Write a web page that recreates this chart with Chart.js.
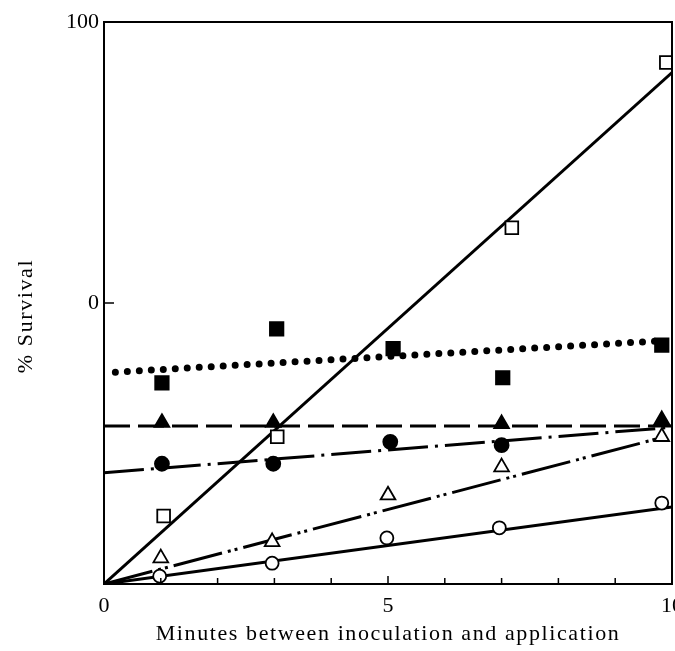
<!DOCTYPE html>
<html>
<head>
    <title>% Survival vs minutes between inoculation and application</title>
    <script src="https://cdn.jsdelivr.net/npm/chart.js"></script>
    <style>
        html, body { margin: 0; padding: 0; overflow: hidden; background: #fff; }
    </style>
</head>
<body>
    <canvas id="survivalChart" width="700" height="651"></canvas>

    <script>
        // points, [minutes, % survival]
        const openSquares = [[1.05, 12.1], [3.05, 26.2], [7.18, 63.4], [9.9, 92.8]];
        const filledSquares = [[1.02, 35.8], [3.04, 45.4], [5.09, 41.9], [7.02, 36.7], [9.82, 42.5]];
        const filledTriangles = [[1.02, 28.7], [2.98, 28.7], [7.0, 28.5], [9.82, 29.2]];
        const filledCircles = [[1.02, 21.4], [2.98, 21.4], [5.04, 25.3], [7.0, 24.7]];
        const openTriangles = [[1.0, 4.6], [2.96, 7.5], [5.0, 15.8], [7.0, 20.8], [9.82, 26.2]];
        const openCircles = [[0.98, 1.4], [2.96, 3.7], [4.98, 8.2], [6.96, 10.0], [9.82, 14.4]];

        // fitted lines, start and end points
        const openSquaresFit = [[0, 0], [10, 91]];
        const filledSquaresFit = [[0.2, 37.7], [9.7, 43.2]];
        const filledTrianglesFit = [[0, 28.1], [10, 28.1]];
        const filledCirclesFit = [[0, 19.8], [9.9, 27.8]];
        const openTrianglesFit = [[0, 0], [9.8, 26.0]];
        const openCirclesFit = [[0, 0], [10, 13.7]];

        const xTickValues = [0, 5, 10];
        const xMinorTicks = [1, 2, 3, 4, 5, 6, 7, 8, 9];
        const yTickValues = [50, 100];
        const yTickLabels = ['0', '100'];
        const yMinorTicks = [50];
        const xTitle = 'Minutes between inoculation and application';
        const yTitle = '% Survival';

        const toXY = arr => arr.map(([x, y]) => ({ x: x, y: y }));
        const tickFont = { family: '"Liberation Serif", serif', size: 22 };

        function markers(data, style, radius, filled) {
            return {
                data: toXY(data),
                showLine: false,
                pointStyle: style,
                pointRadius: radius,
                pointBorderWidth: 1.8,
                pointBorderColor: '#000',
                pointBackgroundColor: filled ? '#000' : '#fff',
                order: 0
            };
        }

        function fitLine(data, dash, width, cap) {
            return {
                data: toXY(data),
                showLine: true,
                pointRadius: 0,
                borderColor: '#000',
                borderWidth: width,
                borderDash: dash,
                borderCapStyle: cap || 'butt',
                fill: false,
                tension: 0,
                order: 1
            };
        }

        const frameAndTicks = {
            id: 'frameAndTicks',
            afterDraw(chart) {
                const ctx = chart.ctx;
                const a = chart.chartArea;
                const x = chart.scales.x;
                const y = chart.scales.y;
                ctx.save();
                ctx.strokeStyle = '#000';
                ctx.lineWidth = 2;
                ctx.strokeRect(a.left, a.top, a.right - a.left, a.bottom - a.top);

                ctx.lineWidth = 1.5;
                ctx.beginPath();
                xMinorTicks.forEach(v => {
                    const px = x.getPixelForValue(v);
                    ctx.moveTo(px, a.bottom);
                    ctx.lineTo(px, a.bottom - (v === 5 ? 8 : 6));
                });
                yMinorTicks.forEach(v => {
                    const py = y.getPixelForValue(v);
                    ctx.moveTo(a.left, py);
                    ctx.lineTo(a.left + 10, py);
                });
                ctx.stroke();

                ctx.fillStyle = '#000';
                ctx.font = '22px "Liberation Serif", serif';
                ctx.letterSpacing = '1.6px';
                ctx.textAlign = 'center';
                ctx.textBaseline = 'alphabetic';
                ctx.fillText(xTitle, (a.left + a.right) / 2, 640);
                ctx.translate(32, 316);
                ctx.rotate(-Math.PI / 2);
                ctx.fillText(yTitle, 0, 0);
                ctx.restore();
            }
        };

        const ctx = document.getElementById('survivalChart').getContext('2d');
        new Chart(ctx, {
            type: 'scatter',
            data: {
                datasets: [
                    markers(openSquares, 'rect', 9, false),
                    markers(filledSquares, 'rect', 9.5, true),
                    markers(filledTriangles, 'triangle', 8.5, true),
                    markers(filledCircles, 'circle', 7, true),
                    markers(openTriangles, 'triangle', 8.5, false),
                    markers(openCircles, 'circle', 6.5, false),
                    fitLine(openSquaresFit, [], 3),
                    fitLine(filledSquaresFit, [0, 12], 7, 'round'),
                    fitLine(filledTrianglesFit, [26, 8], 3),
                    fitLine(filledCirclesFit, [40, 7, 3, 7], 3),
                    fitLine(openTrianglesFit, [50, 6, 3, 4, 3, 6], 3),
                    fitLine(openCirclesFit, [], 3)
                ]
            },
            options: {
                responsive: false,
                animation: false,
                layout: { padding: { top: 22, right: 28, left: 0, bottom: 0 } },
                plugins: {
                    legend: { display: false },
                    tooltip: { enabled: false }
                },
                scales: {
                    x: {
                        type: 'linear',
                        min: 0,
                        max: 10,
                        grid: { display: false, drawTicks: false },
                        border: { display: false },
                        afterBuildTicks: s => { s.ticks = xTickValues.map(v => ({ value: v })); },
                        ticks: {
                            font: tickFont,
                            color: '#000',
                            padding: 9,
                            maxRotation: 0,
                            callback: v => String(v)
                        },
                        afterFit: s => { s.height = 67; s.paddingLeft = 0; s.paddingRight = 0; }
                    },
                    y: {
                        type: 'linear',
                        min: 0,
                        max: 100,
                        grid: { display: false, drawTicks: false },
                        border: { display: false },
                        afterBuildTicks: s => { s.ticks = yTickValues.map(v => ({ value: v })); },
                        ticks: {
                            font: tickFont,
                            color: '#000',
                            padding: 5,
                            callback: (v, i) => yTickLabels[i]
                        },
                        afterFit: s => { s.width = 104; s.paddingTop = 0; s.paddingBottom = 0; }
                    }
                }
            },
            plugins: [frameAndTicks]
        });
    </script>
</body>
</html>
